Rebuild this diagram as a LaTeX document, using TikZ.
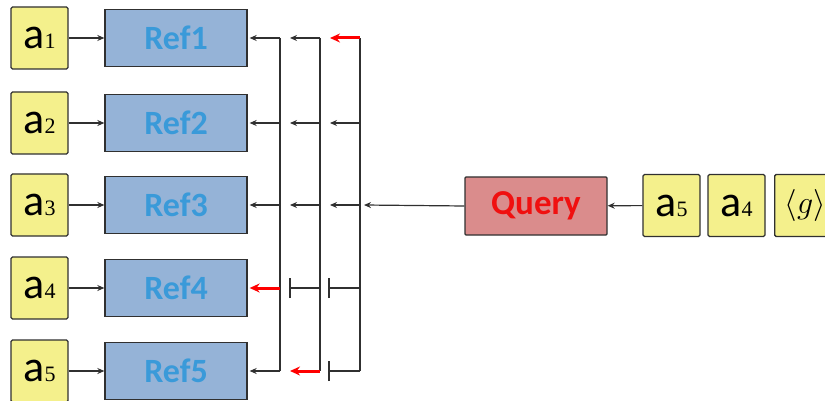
\RequirePackage{fix-cm}
\documentclass[tikz,border=0pt]{standalone}
\usepackage{fontspec}
\setmainfont{Carlito}
\newfontfamily\subfont{Liberation Serif}
\usetikzlibrary{arrows.meta}
\definecolor{keyfill}{HTML}{F4F08C}
\definecolor{reffill}{HTML}{95B3D7}
\definecolor{reftext}{HTML}{3A9AD9}
\definecolor{qfill}{HTML}{DA8C8C}
\definecolor{qtext}{HTML}{F01010}
\definecolor{wire}{HTML}{303030}
\newcommand\akey[1]{{\fontsize{44}{44}\selectfont a}{\subfont\fontsize{22}{22}\selectfont #1}}
\begin{document}
\begin{tikzpicture}[x=1pt,y=-1pt,
  keybox/.style={draw=wire, line width=1.3pt, fill=keyfill, rounded corners=1.5pt,
    minimum width=57pt, minimum height=62pt, inner sep=0pt},
  refbox/.style={draw=wire, line width=1.3pt, fill=reffill,
    minimum width=142pt, minimum height=57pt, inner sep=0pt,
    font=\fontsize{34}{34}\selectfont\bfseries, text=reftext},
  qbox/.style={draw=wire, line width=1.3pt, fill=qfill, rounded corners=1pt,
    minimum width=142pt, minimum height=58pt, inner sep=0pt,
    font=\fontsize{35}{35}\selectfont\bfseries, text=qtext},
  feed/.style={draw=wire, line width=1.2pt, -{Stealth[length=7pt,width=6pt]}},
  hot/.style={draw=red, line width=3pt, -{Stealth[length=10pt,width=9pt]}},
  stopline/.style={draw=wire, line width=1.2pt, -{Bar[width=20pt,line width=1.5pt]}},
  rail/.style={draw=wire, line width=1.6pt}]
\useasboundingbox (0,0) rectangle (825,401);
\clip (0,0) rectangle (825,401);

% key boxes and reference boxes
\foreach \i/\y in {1/38,2/123,3/205,4/288,5/371}{
  \node[keybox] (a\i) at (39.5,\y) {\akey{\i}};
  \node[refbox] (r\i) at (176,\y) {Ref\i\hspace{12pt}};
  \draw[feed] (a\i) -- (r\i);
}

% query and its keys
\node[qbox] (q) at (536,206) {Query};
\node[keybox] (k5) at (671.5,205.5) {\akey{5}};
\node[keybox] (k4) at (736.5,205.5) {\akey{4}};
\node[keybox, minimum width=60pt, anchor=west] (kg) at (774,205.5)
  {\hspace{1pt}\fontsize{32}{32}\selectfont$\langle g\rangle$\hspace{8pt}};
\draw[feed] (k5) -- (q);

% three vertical rails with a branch point on every row
\foreach \x/\n in {280/1,320/2,360/3}{
  \coordinate (t\n) at (\x,38);
  \coordinate (b\n) at (\x,371);
  \foreach \i/\y in {1/38,2/123,3/205,4/288,5/371}
    \coordinate (p\n\i) at (\x,\y);
  \draw[rail] (t\n) -- (b\n);
}
\coordinate (h3) at (364,205);
\draw[feed] (q.west) -- (h3);

% rail 1 -> reference boxes
\foreach \i in {1,2,3,5} \draw[feed] (p1\i) -- ([xshift=2pt]r\i.east);
\draw[hot] (p14) -- ([xshift=2pt]r4.east);

% rail 2 -> rail 1
\coordinate (e21) at (290,38);
\coordinate (e22) at (290,123);
\coordinate (e23) at (290,205);
\coordinate (e24) at (289,288);
\coordinate (e25) at (290,371);
\foreach \i in {1,2,3} \draw[feed] (p2\i) -- (e2\i);
\draw[stopline] (p24) -- (e24);
\draw[hot] (p25) -- (e25);

% rail 3 -> rail 2
\coordinate (e31) at (330,38);
\coordinate (e32) at (330,123);
\coordinate (e33) at (330,205);
\coordinate (e34) at (328,288);
\coordinate (e35) at (328,371);
\draw[hot] (p31) -- (e31);
\foreach \i in {2,3} \draw[feed] (p3\i) -- (e3\i);
\draw[stopline] (p34) -- (e34);
\draw[stopline] (p35) -- (e35);
\end{tikzpicture}
\end{document}
